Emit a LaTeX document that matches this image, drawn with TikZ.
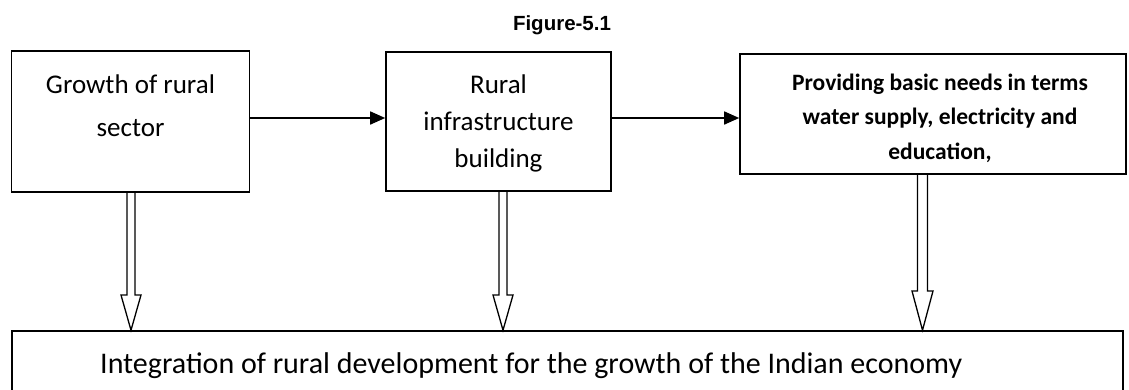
\documentclass[tikz,border=0pt]{standalone}
\usepackage{fontspec}
\setmainfont{Carlito}
\newfontfamily\arialfont{Liberation Sans}
\usetikzlibrary{arrows.meta,calc}
\begin{document}
\begin{tikzpicture}[x=1pt,y=-1pt,
  box/.style={draw, line width=1.6pt, inner sep=0pt},
  txt/.style={inner sep=0pt, align=center},
  flow/.style={line width=1.6pt, -{Triangle[length=15pt,width=13pt]}},
  dbl/.style={line width=1.3pt, line join=miter}]
\useasboundingbox (0,0) rectangle (1129,389);
\clip (0,0) rectangle (1129,389);
% title
\node[inner sep=0pt, anchor=base] (title) at (562,30) {\arialfont\bfseries\fontsize{20.5}{24}\selectfont Figure-5.1};
% boxes
\node[box, minimum width=238pt, minimum height=141pt] (b1) at (130.5,121.5) {};
\node[box, minimum width=225pt, minimum height=139pt] (b2) at (498.5,121.5) {};
\node[box, minimum width=386pt, minimum height=120pt] (b3) at (933,114) {};
\node[box, minimum width=1111pt, minimum height=62pt] (bot) at (567.5,362) {};
% texts
\node[txt, font=\fontsize{27}{43}\selectfont] (t1) at (130.5,106) {Growth of rural\\sector};
\node[txt, font=\fontsize{27}{37}\selectfont] (t2) at (498.5,123) {Rural\\infrastructure\\building};
\node[txt, font=\bfseries\fontsize{23.5}{34.5}\selectfont] (t3) at (940,118) {Providing basic needs in terms\\water supply, electricity and\\education,};
\node[inner sep=0pt, anchor=base west, font=\fontsize{30}{34}\selectfont] (t4) at (100,373) {Integration of rural development for the growth of the Indian economy};
% horizontal arrows
\draw[flow] (b1.east |- 0,118) -- (b2.west |- 0,118);
\draw[flow] (b2.east |- 0,118) -- (b3.west |- 0,118);
% hollow double arrows
\draw[dbl] (127,0 |- b1.south) -- (127,295) -- (121,295) -- (131,0 |- bot.north) -- (141,295) -- (135,295) -- (135,0 |- b1.south);
\draw[dbl] (499,0 |- b2.south) -- (499,295) -- (493,295) -- (503,0 |- bot.north) -- (513,295) -- (507,295) -- (507,0 |- b2.south);
\draw[dbl] (917.5,0 |- b3.south) -- (917.5,291) -- (912,291) -- (922.5,0 |- bot.north) -- (933,291) -- (927.5,291) -- (927.5,0 |- b3.south);
\end{tikzpicture}
\end{document}
